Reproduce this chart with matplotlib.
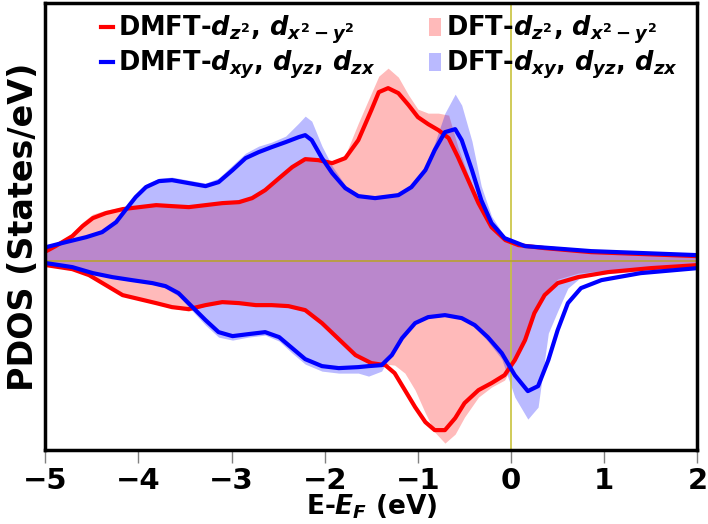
import numpy as np
import matplotlib.pyplot as plt

plt.rcParams['font.family'] = 'DejaVu Sans'
plt.rcParams['font.weight'] = 'bold'
plt.rcParams['mathtext.fontset'] = 'custom'
plt.rcParams['mathtext.it'] = 'DejaVu Sans:bold:italic'
plt.rcParams['mathtext.rm'] = 'DejaVu Sans:bold'
plt.rcParams['mathtext.bf'] = 'DejaVu Sans:bold'

# eg states (dz2, dx2-y2), spin up
e_red_up = [-4.99, -4.89, -4.71, -4.60, -4.49, -4.35, -4.17, -3.99, -3.81, -3.64, -3.46, -3.28, -3.10, -2.92,
            -2.78, -2.64, -2.49, -2.35, -2.21, -2.07, -1.92, -1.78, -1.64, -1.50, -1.42, -1.32, -1.21, -1.10,
            -1.00, -0.89, -0.78, -0.67, -0.57, -0.46, -0.35, -0.21, -0.06, 0.08, 0.36, 0.86, 2.0]
dmft_red_up = [0.10, 0.15, 0.25, 0.35, 0.43, 0.48, 0.52, 0.54, 0.56, 0.55, 0.54, 0.56, 0.58, 0.59,
               0.63, 0.71, 0.83, 0.94, 1.02, 1.01, 0.98, 1.03, 1.21, 1.51, 1.69, 1.73, 1.68, 1.56,
               1.44, 1.37, 1.31, 1.23, 1.04, 0.81, 0.58, 0.34, 0.21, 0.16, 0.13, 0.09, 0.05]
dft_red_up = [0.11, 0.17, 0.28, 0.39, 0.47, 0.51, 0.54, 0.55, 0.57, 0.56, 0.55, 0.57, 0.59, 0.60,
              0.65, 0.73, 0.85, 0.96, 1.04, 1.03, 1.00, 1.06, 1.38, 1.68, 1.85, 1.93, 1.84, 1.66,
              1.52, 1.48, 1.48, 1.46, 1.14, 0.86, 0.60, 0.35, 0.21, 0.15, 0.12, 0.09, 0.05]

# t2g states (dxy, dyz, dzx), spin up
e_blue_up = [-4.99, -4.78, -4.56, -4.39, -4.24, -4.14, -4.03, -3.92, -3.78, -3.64, -3.46, -3.28, -3.14, -2.99,
             -2.85, -2.71, -2.57, -2.42, -2.28, -2.21, -2.14, -2.03, -1.92, -1.78, -1.64, -1.46, -1.21, -1.07,
             -0.92, -0.82, -0.71, -0.60, -0.53, -0.42, -0.32, -0.21, -0.07, 0.15, 0.86, 2.0]
dmft_blue_up = [0.14, 0.19, 0.24, 0.29, 0.39, 0.51, 0.64, 0.74, 0.80, 0.81, 0.78, 0.75, 0.79, 0.91,
                1.03, 1.09, 1.14, 1.19, 1.24, 1.26, 1.21, 1.03, 0.88, 0.73, 0.65, 0.63, 0.66, 0.74,
                0.91, 1.11, 1.29, 1.32, 1.21, 0.91, 0.61, 0.38, 0.23, 0.15, 0.10, 0.06]
dft_blue_up = [0.15, 0.20, 0.26, 0.31, 0.42, 0.54, 0.67, 0.77, 0.83, 0.84, 0.81, 0.78, 0.83, 0.96,
               1.08, 1.15, 1.19, 1.25, 1.38, 1.45, 1.40, 1.15, 0.95, 0.76, 0.67, 0.65, 0.68, 0.77,
               0.95, 1.18, 1.48, 1.67, 1.56, 1.20, 0.75, 0.45, 0.25, 0.15, 0.10, 0.06]

# eg states, spin down
e_red_dn = [-4.99, -4.71, -4.53, -4.35, -4.17, -3.99, -3.81, -3.64, -3.46, -3.28, -3.10, -2.92, -2.74, -2.57,
            -2.39, -2.21, -2.03, -1.85, -1.67, -1.50, -1.35, -1.25, -1.14, -1.03, -0.92, -0.82, -0.71, -0.60,
            -0.50, -0.35, -0.21, -0.07, 0.04, 0.15, 0.25, 0.36, 0.50, 0.72, 1.04, 1.50, 2.0]
dmft_red_dn = [-0.04, -0.08, -0.14, -0.24, -0.34, -0.38, -0.42, -0.46, -0.48, -0.44, -0.41, -0.42, -0.44, -0.44,
               -0.45, -0.49, -0.62, -0.78, -0.94, -1.02, -1.04, -1.12, -1.29, -1.46, -1.61, -1.69, -1.69, -1.57,
               -1.42, -1.29, -1.22, -1.14, -0.99, -0.79, -0.52, -0.34, -0.22, -0.16, -0.11, -0.07, -0.04]
dft_red_dn = [-0.04, -0.08, -0.14, -0.24, -0.34, -0.39, -0.43, -0.47, -0.50, -0.45, -0.41, -0.42, -0.44, -0.44,
              -0.45, -0.49, -0.62, -0.78, -0.94, -1.02, -1.03, -1.04, -1.12, -1.29, -1.52, -1.71, -1.82, -1.73,
              -1.56, -1.36, -1.26, -1.19, -1.00, -0.78, -0.50, -0.31, -0.18, -0.12, -0.09, -0.06, -0.04]

# t2g states, spin down
e_blue_dn = [-4.99, -4.71, -4.49, -4.28, -4.07, -3.85, -3.71, -3.57, -3.42, -3.28, -3.14, -2.99, -2.82, -2.64,
             -2.49, -2.35, -2.21, -2.03, -1.85, -1.64, -1.53, -1.39, -1.28, -1.17, -1.03, -0.89, -0.71, -0.53,
             -0.39, -0.25, -0.10, 0.04, 0.18, 0.29, 0.40, 0.50, 0.61, 0.75, 0.97, 1.39, 2.0]
dmft_blue_dn = [-0.02, -0.06, -0.12, -0.16, -0.19, -0.22, -0.25, -0.32, -0.46, -0.59, -0.71, -0.75, -0.73, -0.71,
                -0.76, -0.87, -0.98, -1.05, -1.07, -1.06, -1.05, -1.04, -0.94, -0.77, -0.62, -0.56, -0.54, -0.57,
                -0.64, -0.76, -0.92, -1.14, -1.30, -1.25, -0.99, -0.69, -0.42, -0.27, -0.19, -0.12, -0.07]
dft_blue_dn = [-0.02, -0.06, -0.12, -0.17, -0.20, -0.23, -0.27, -0.35, -0.50, -0.64, -0.76, -0.79, -0.76, -0.74,
               -0.80, -0.92, -1.03, -1.10, -1.12, -1.12, -1.15, -1.10, -0.92, -0.75, -0.62, -0.57, -0.55, -0.58,
               -0.66, -0.80, -0.98, -1.36, -1.58, -1.46, -0.72, -0.50, -0.27, -0.16, -0.13, -0.10, -0.06]

fig = plt.figure(figsize=(7.08, 5.24), dpi=100)
ax = fig.add_axes([0.064, 0.141, 0.921, 0.853])

# DFT as shaded areas
ax.fill_between(e_red_up, dft_red_up, 0, color='red', alpha=0.27, lw=0, label=r'DFT-$d_{z^2}$, $d_{x^2-y^2}$')
ax.fill_between(e_red_dn, dft_red_dn, 0, color='red', alpha=0.27, lw=0)
ax.fill_between(e_blue_up, dft_blue_up, 0, color='blue', alpha=0.27, lw=0, label=r'DFT-$d_{xy}$, $d_{yz}$, $d_{zx}$')
ax.fill_between(e_blue_dn, dft_blue_dn, 0, color='blue', alpha=0.27, lw=0)

ax.axvline(0, color='#c8c23c', lw=1.2)
ax.axhline(0, color='#b8a030', lw=1.2)

# DMFT lines
ax.plot(e_red_up, dmft_red_up, color='red', lw=3, label=r'DMFT-$d_{z^2}$, $d_{x^2-y^2}$')
ax.plot(e_red_dn, dmft_red_dn, color='red', lw=3)
ax.plot(e_blue_up, dmft_blue_up, color='blue', lw=3, label=r'DMFT-$d_{xy}$, $d_{yz}$, $d_{zx}$')
ax.plot(e_blue_dn, dmft_blue_dn, color='blue', lw=3)

ax.set_xlim(-5, 2)
ax.set_ylim(-1.89, 2.58)
ax.set_yticks([])
ax.set_xticks(range(-5, 3))
ax.tick_params(axis='x', labelsize=21, length=9, width=1, color='gray', pad=3)
for s in ax.spines.values():
    s.set_linewidth(2.5)
ax.set_xlabel(r'E-$E_F$ (eV)', fontsize=19, fontweight='bold', labelpad=-2)
ax.set_ylabel('PDOS (States/eV)', fontsize=24, fontweight='bold', labelpad=4)

h, l = ax.get_legend_handles_labels()
order = [2, 3, 0, 1]
ax.legend([h[i] for i in order], [l[i] for i in order], ncol=2, frameon=False, fontsize=18.5,
          loc='upper left', bbox_to_anchor=(0.062, 1.01), handlelength=0.45, handletextpad=0.2,
          columnspacing=2.1, labelspacing=0.1, borderaxespad=0.2)

fig.savefig('out.png', dpi=100)
